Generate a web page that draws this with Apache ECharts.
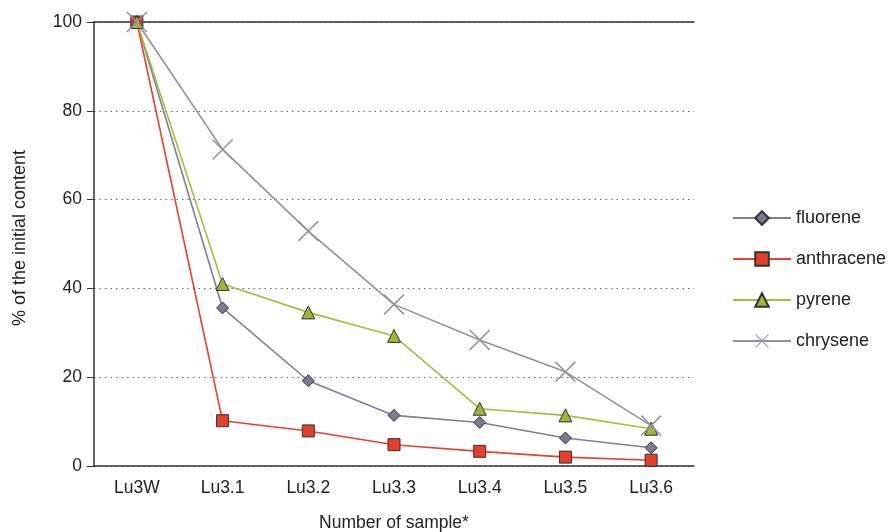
<!DOCTYPE html>
<html><head><meta charset="utf-8">
<script src="https://cdn.jsdelivr.net/npm/echarts@6/dist/echarts.min.js"></script>
<style>html,body{margin:0;padding:0;background:#fff}#c{width:890px;height:532px}</style>
</head><body><div id="c"></div>
<script>
const categories = ['Lu3W','Lu3.1','Lu3.2','Lu3.3','Lu3.4','Lu3.5','Lu3.6'];
const fluorene   = [100, 35.6, 19.2, 11.4, 9.8, 6.3, 4.1];
const anthracene = [100, 10.2, 7.9, 4.8, 3.3, 2.0, 1.3];
const pyrene     = [100, 41.0, 34.6, 29.3, 12.9, 11.4, 8.4];
const chrysene   = [100, 71.3, 52.9, 36.4, 28.4, 21.2, 9.1];
const yTicks = [0, 20, 40, 60, 80, 100];

const FONT = 'Liberation Sans, Arial, sans-serif';
const X_PATH = 'path://M0,5L5,0L50,45L95,0L100,5L55,50L100,95L95,100L50,55L5,100L0,95L45,50Z';

function series(name, data, color, symbol, size, fill, border) {
  return {
    name, type: 'line', data, symbol, symbolSize: size,
    lineStyle: { color, width: 1.6 },
    itemStyle: { color: fill, borderColor: border, borderWidth: border ? 1 : 0 },
    emphasis: { disabled: true }, z: 3
  };
}

const chart = echarts.init(document.getElementById('c'));
chart.setOption({
  animation: false,
  textStyle: { fontFamily: FONT },
  grid: { left: 94, right: 196, top: 22, bottom: 66, containLabel: false, outerBoundsMode: 'none' },
  legend: {
    orient: 'vertical', left: 727, top: 204, itemWidth: 58, itemHeight: 17, itemGap: 23,
    textStyle: { fontSize: 18, color: '#222', fontFamily: FONT },
    data: ['fluorene','anthracene','pyrene','chrysene']
  },
  xAxis: [{
    type: 'category', data: categories, boundaryGap: true,
    name: 'Number of sample*', nameLocation: 'middle', nameGap: 48,
    nameTextStyle: { fontSize: 17.5, color: '#222' },
    axisLine: { lineStyle: { color: '#333', width: 1.5 } },
    axisTick: { show: false },
    axisLabel: { fontSize: 17.5, color: '#222', margin: 13 }
  }, {
    type: 'category', data: categories, position: 'top',
    axisLine: { show: true, lineStyle: { color: '#333', width: 1.5 } },
    axisTick: { show: false }, axisLabel: { show: false }
  }],
  yAxis: {
    type: 'value', min: 0, max: 100, interval: 20,
    name: '% of the initial content', nameLocation: 'middle', nameGap: 65,
    nameTextStyle: { fontSize: 18, color: '#222', padding: [0, 0, 0, 12] },
    axisLine: { show: true, lineStyle: { color: '#333', width: 1.5 } },
    axisTick: { show: true, length: 7, lineStyle: { color: '#333' } },
    axisLabel: { fontSize: 17.5, color: '#222', margin: 12,
      formatter: v => yTicks.includes(v) ? String(v) : '' },
    splitLine: { show: true, lineStyle: { color: '#666', type: [1.5, 4], width: 1.2 } }
  },
  series: [
    series('fluorene', fluorene, '#7e7e9c', 'diamond', 12, '#7b7b97', '#333'),
    series('anthracene', anthracene, '#e8412c', 'rect', 12, '#e2402b', '#333'),
    series('pyrene', pyrene, '#a8bd3c', 'triangle', 13, '#a4b23c', '#333'),
    series('chrysene', chrysene, '#9b8d9e', X_PATH, 21, '#9b8d9e', null)
  ]
});
</script></body></html>
